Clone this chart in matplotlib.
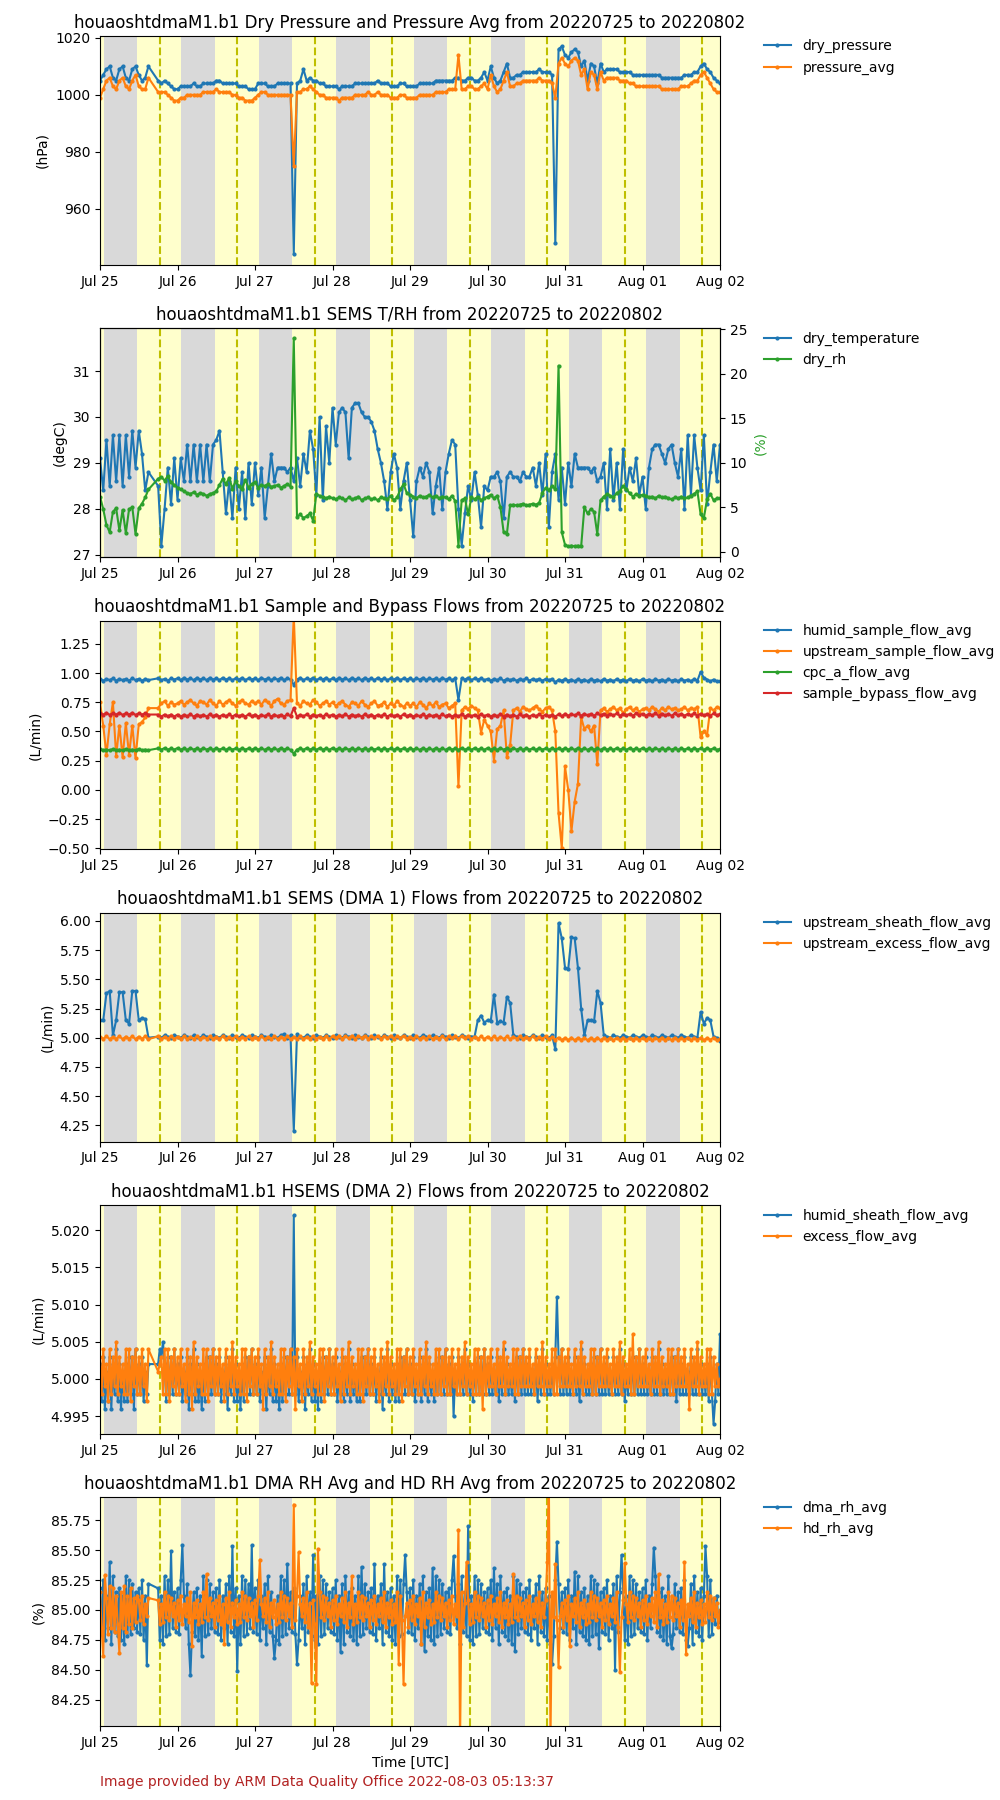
import numpy as np
import pandas as pd
import matplotlib
matplotlib.use('Agg')
import matplotlib.pyplot as plt
import matplotlib.dates as mdates

DATASTREAM = 'houaoshtdmaM1.b1'
START = pd.Timestamp('2022-07-25')
END = pd.Timestamp('2022-08-02')
# no samples between these times, the line just jumps across
GAP_FROM = START + pd.Timedelta(hours=15.25)
GAP_TO = START + pd.Timedelta(hours=17.75)

# sun at HOU (UTC hours)
SUNSET_H = 1.2
SUNRISE_H = 11.6
NOON_H = 18.45

# ---- panel 1, hourly (hPa)
dry_pressure = [
    1005, 1007, 1009, 1010, 1006, 1005, 1009, 1010, 1006, 1005, 1009, 1010, 1007, 1005, 1006, 1010, 1006, 1005, 1005, 1004, 1005, 1004, 1003, 1002,
    1002, 1003, 1003, 1003, 1003, 1004, 1003, 1003, 1004, 1004, 1004, 1004, 1005, 1005, 1004, 1004, 1004, 1004, 1004, 1003, 1003, 1003, 1002, 1002,
    1002, 1004, 1004, 1004, 1003, 1003, 1003, 1004, 1004, 1004, 1004, 1004, 944, 1004, 1005, 1009, 1005, 1006, 1005, 1005, 1004, 1004, 1003, 1003,
    1003, 1003, 1002, 1003, 1003, 1003, 1003, 1004, 1004, 1004, 1004, 1004, 1004, 1004, 1005, 1004, 1004, 1004, 1003, 1003, 1003, 1004, 1004, 1003,
    1003, 1003, 1003, 1004, 1004, 1004, 1004, 1004, 1005, 1005, 1005, 1005, 1005, 1005, 1006, 1006, 1005, 1005, 1006, 1006, 1005, 1005, 1006, 1008,
    1005, 1010, 1006, 1004, 1005, 1008, 1011, 1006, 1006, 1007, 1007, 1008, 1008, 1008, 1008, 1008, 1009, 1008, 1008, 1008, 1007, 948, 1016, 1017,
    1014, 1013, 1015, 1016, 1015, 1010, 1012, 1005, 1011, 1010, 1004, 1011, 1008, 1009, 1009, 1009, 1009, 1008, 1008, 1008, 1008, 1007, 1007, 1007,
    1007, 1007, 1007, 1007, 1007, 1007, 1006, 1006, 1006, 1006, 1006, 1006, 1006, 1007, 1007, 1007, 1008, 1008, 1010, 1011, 1009, 1008, 1006, 1005,
    1004]
pressure_avg = [
    999, 1002, 1005, 1006, 1003, 1002, 1005, 1006, 1003, 1002, 1005, 1007, 1003, 1002, 1002, 1006, 1002, 1002, 1001, 1001, 1001, 1000, 999, 998,
    998, 999, 999, 1000, 1000, 1000, 1000, 1000, 1001, 1001, 1001, 1001, 1002, 1001, 1001, 1001, 1001, 1000, 1000, 999, 999, 998, 998, 998,
    999, 1000, 1001, 1001, 1000, 1000, 1000, 1000, 1000, 1000, 1000, 1000, 975, 1001, 1001, 1002, 1002, 1003, 1002, 1001, 1000, 1000, 999, 999,
    999, 999, 998, 999, 999, 999, 999, 1000, 1000, 1000, 1000, 1001, 1000, 1000, 1001, 1000, 1000, 1000, 999, 999, 999, 1000, 1000, 999,
    999, 999, 999, 1000, 1000, 1000, 1000, 1000, 1001, 1001, 1001, 1001, 1002, 1002, 1002, 1014, 1002, 1002, 1003, 1003, 1002, 1002, 1003, 1004,
    1002, 1007, 1003, 1001, 1002, 1005, 1008, 1003, 1003, 1004, 1004, 1005, 1005, 1005, 1005, 1005, 1006, 1005, 1005, 1005, 1004, 999, 1011, 1013,
    1011, 1010, 1012, 1013, 1012, 1007, 1009, 1002, 1008, 1007, 1002, 1008, 1005, 1006, 1006, 1006, 1006, 1005, 1005, 1005, 1004, 1004, 1003, 1003,
    1003, 1003, 1003, 1003, 1003, 1003, 1002, 1002, 1002, 1002, 1002, 1002, 1003, 1003, 1003, 1004, 1005, 1005, 1007, 1008, 1006, 1004, 1002, 1001,
    1001]

# ---- panel 2, hourly (degC and %)
dry_temperature = [
    29.1, 28.4, 29.5, 28.5, 29.6, 28.6, 29.6, 28.5, 29.6, 28.7, 29.7, 28.9, 29.7, 29.2, 28.4, 28.8, 28.0, 27.8, 28.5, 27.2, 28.0, 28.9, 28.1, 29.1,
    28.2, 29.1, 28.6, 29.4, 28.6, 29.4, 28.6, 29.4, 28.6, 29.4, 28.6, 29.4, 29.5, 29.7, 28.8, 27.9, 28.6, 27.8, 28.9, 28.0, 28.8, 27.8, 29.0, 28.1,
    29.0, 28.3, 28.9, 27.8, 28.5, 29.2, 28.6, 28.9, 28.9, 28.9, 28.8, 28.9, 28.6, 29.1, 28.5, 29.2, 28.8, 29.7, 29.3, 28.3, 30.0, 28.2, 29.8, 29.0,
    30.2, 29.4, 30.1, 30.2, 30.1, 29.1, 30.2, 30.3, 30.3, 30.1, 30.0, 30.0, 29.9, 29.7, 29.3, 29.0, 28.6, 28.0, 28.8, 29.2, 28.9, 28.0, 28.6, 29.0,
    28.2, 27.4, 28.6, 28.9, 28.7, 29.0, 28.8, 27.9, 28.5, 28.9, 28.0, 28.8, 29.2, 29.5, 29.4, 28.0, 27.2, 27.9, 28.5, 28.2, 28.8, 28.3, 27.6, 28.5,
    28.4, 28.7, 28.7, 28.8, 28.6, 27.8, 28.7, 28.8, 28.7, 28.7, 28.6, 28.8, 28.7, 28.7, 28.9, 28.5, 29.0, 28.3, 29.2, 27.6, 28.8, 29.2, 28.2, 28.9,
    28.1, 29.0, 28.5, 29.2, 28.9, 28.9, 28.9, 28.9, 28.8, 28.9, 28.6, 28.7, 29.0, 28.0, 29.3, 28.2, 29.0, 28.0, 29.3, 28.4, 28.9, 28.6, 29.1, 28.3,
    28.7, 28.0, 28.9, 29.3, 29.4, 29.4, 29.2, 29.0, 29.3, 29.4, 29.0, 28.7, 29.3, 28.0, 29.6, 28.3, 29.6, 28.9, 28.4, 29.6, 28.1, 28.8, 29.4, 28.6,
    29.4]
dry_rh = [
    6.2, 4.8, 3.0, 2.2, 4.5, 4.9, 2.4, 4.7, 2.1, 4.8, 5.0, 2.0, 4.9, 5.4, 6.1, 7.0, 7.3, 7.8, 8.2, 8.4, 8.0, 8.5, 7.8, 7.5,
    7.2, 7.0, 6.8, 6.6, 6.5, 6.7, 6.4, 6.6, 6.5, 6.3, 6.5, 6.6, 6.8, 7.5, 8.2, 7.6, 8.3, 7.1, 7.9, 7.4, 7.0, 8.1, 7.2, 7.6,
    7.8, 7.2, 7.5, 7.4, 7.6, 7.3, 7.4, 7.5, 7.2, 7.4, 7.6, 7.3, 24.0, 3.9, 4.2, 3.8, 4.0, 4.3, 3.5, 6.5, 6.3, 6.1, 6.0, 6.2,
    6.0, 5.9, 6.1, 6.0, 5.8, 6.1, 5.9, 6.0, 6.2, 5.8, 6.0, 6.1, 5.9, 6.0, 5.8, 6.1, 6.0, 5.9, 6.3, 5.8, 6.1, 7.0, 7.6, 6.6,
    6.4, 6.2, 6.0, 6.3, 6.1, 6.2, 6.4, 6.1, 6.3, 6.0, 6.2, 6.1, 5.9, 6.3, 5.7, 0.7, 5.8, 6.0, 4.2, 6.1, 5.9, 6.2, 5.8, 6.0,
    6.2, 6.4, 6.0, 6.3, 5.0, 2.2, 2.0, 5.2, 5.3, 5.2, 5.3, 5.4, 5.2, 5.3, 5.4, 5.3, 5.5, 6.6, 7.2, 6.9, 7.4, 7.0, 20.9, 2.2,
    0.8, 0.6, 0.7, 0.6, 0.7, 0.6, 5.0, 4.3, 4.8, 4.5, 2.0, 5.8, 6.2, 6.5, 6.3, 6.1, 6.6, 6.8, 7.4, 7.0, 6.6, 6.2, 6.5, 6.3,
    6.4, 6.3, 6.1, 6.2, 6.0, 6.3, 6.1, 6.2, 6.0, 5.9, 6.1, 6.0, 6.2, 6.0, 6.1, 6.3, 6.5, 6.8, 4.2, 3.8, 5.9, 6.5, 5.8, 6.0,
    6.0]

# ---- panel 3, hourly (L/min)
humid_sample_flow_avg = [
    0.95, 0.935, 0.95, 0.94, 0.955, 0.935, 0.95, 0.94, 0.95, 0.935, 0.955, 0.94, 0.95, 0.935, 0.95, 0.94, 0.95, 0.94, 0.955, 0.94, 0.95, 0.935, 0.955, 0.945,
    0.955, 0.94, 0.96, 0.945, 0.955, 0.94, 0.96, 0.945, 0.955, 0.94, 0.96, 0.945, 0.955, 0.94, 0.96, 0.945, 0.955, 0.94, 0.955, 0.945, 0.96, 0.94, 0.955, 0.945,
    0.955, 0.94, 0.96, 0.945, 0.955, 0.94, 0.955, 0.945, 0.96, 0.94, 0.955, 0.945, 0.90, 0.945, 0.96, 0.94, 0.955, 0.945, 0.96, 0.94, 0.955, 0.945, 0.96, 0.94,
    0.955, 0.94, 0.96, 0.945, 0.955, 0.94, 0.96, 0.945, 0.955, 0.94, 0.96, 0.945, 0.955, 0.94, 0.96, 0.945, 0.955, 0.94, 0.955, 0.945, 0.96, 0.94, 0.955, 0.945,
    0.955, 0.94, 0.955, 0.945, 0.96, 0.94, 0.955, 0.945, 0.955, 0.94, 0.96, 0.945, 0.955, 0.94, 0.955, 0.77, 0.955, 0.945, 0.96, 0.94, 0.955, 0.945, 0.955, 0.94,
    0.95, 0.935, 0.95, 0.94, 0.955, 0.935, 0.95, 0.94, 0.95, 0.935, 0.95, 0.94, 0.955, 0.935, 0.95, 0.94, 0.95, 0.935, 0.95, 0.94, 0.95, 0.92, 0.945, 0.935,
    0.95, 0.935, 0.945, 0.93, 0.95, 0.935, 0.945, 0.93, 0.95, 0.935, 0.945, 0.93, 0.95, 0.935, 0.945, 0.93, 0.95, 0.935, 0.945, 0.93, 0.95, 0.935, 0.945, 0.93,
    0.95, 0.935, 0.945, 0.93, 0.95, 0.935, 0.945, 0.93, 0.95, 0.935, 0.945, 0.93, 0.95, 0.935, 0.945, 0.93, 0.95, 0.935, 1.01, 0.96, 0.945, 0.93, 0.945, 0.93,
    0.93]
upstream_sample_flow_avg = [
    0.75, 0.55, 0.30, 0.56, 0.75, 0.29, 0.55, 0.28, 0.57, 0.30, 0.55, 0.27, 0.56, 0.58, 0.62, 0.70, 0.72, 0.73, 0.70, 0.74, 0.76, 0.72, 0.75, 0.73,
    0.74, 0.76, 0.73, 0.75, 0.77, 0.74, 0.72, 0.76, 0.75, 0.73, 0.77, 0.74, 0.72, 0.76, 0.73, 0.75, 0.77, 0.74, 0.72, 0.75, 0.77, 0.74, 0.73, 0.76,
    0.74, 0.76, 0.73, 0.77, 0.75, 0.72, 0.76, 0.78, 0.74, 0.73, 0.76, 0.77, 1.50, 0.74, 0.72, 0.76, 0.74, 0.73, 0.77, 0.75, 0.72, 0.74, 0.76, 0.73,
    0.75, 0.72, 0.74, 0.76, 0.73, 0.71, 0.75, 0.74, 0.72, 0.76, 0.73, 0.71, 0.74, 0.76, 0.72, 0.73, 0.75, 0.71, 0.74, 0.72, 0.76, 0.73, 0.71, 0.74,
    0.72, 0.74, 0.71, 0.75, 0.73, 0.70, 0.74, 0.72, 0.75, 0.71, 0.73, 0.74, 0.70, 0.72, 0.74, 0.03, 0.68, 0.71, 0.69, 0.72, 0.70, 0.68, 0.49, 0.60,
    0.55, 0.50, 0.25, 0.52, 0.55, 0.68, 0.28, 0.38, 0.68, 0.70, 0.67, 0.71, 0.69, 0.68, 0.70, 0.72, 0.69, 0.67, 0.70, 0.71, 0.68, 0.50, -0.20, -0.50,
    0.20, 0.00, -0.35, -0.10, 0.05, 0.62, 0.52, 0.55, 0.50, 0.55, 0.22, 0.68, 0.70, 0.67, 0.69, 0.71, 0.68, 0.70, 0.66, 0.69, 0.71, 0.68, 0.70, 0.67,
    0.69, 0.70, 0.68, 0.71, 0.69, 0.67, 0.70, 0.68, 0.71, 0.69, 0.70, 0.68, 0.69, 0.71, 0.68, 0.70, 0.69, 0.71, 0.45, 0.50, 0.47, 0.70, 0.68, 0.71,
    0.70]
cpc_a_flow_avg = [
    0.35, 0.34, 0.345, 0.338, 0.35, 0.34, 0.345, 0.338, 0.35, 0.34, 0.345, 0.338, 0.35, 0.34, 0.345, 0.34, 0.35, 0.345, 0.355, 0.345, 0.358, 0.345, 0.355, 0.345,
    0.358, 0.345, 0.355, 0.343, 0.358, 0.345, 0.355, 0.343, 0.358, 0.345, 0.355, 0.343, 0.358, 0.345, 0.355, 0.343, 0.358, 0.345, 0.355, 0.343, 0.358, 0.345, 0.355, 0.343,
    0.358, 0.345, 0.355, 0.343, 0.358, 0.345, 0.355, 0.343, 0.358, 0.345, 0.355, 0.343, 0.31, 0.345, 0.355, 0.343, 0.358, 0.345, 0.355, 0.343, 0.358, 0.345, 0.355, 0.343,
    0.358, 0.345, 0.355, 0.343, 0.358, 0.345, 0.355, 0.343, 0.358, 0.345, 0.355, 0.343, 0.358, 0.345, 0.355, 0.343, 0.358, 0.345, 0.355, 0.343, 0.358, 0.345, 0.355, 0.343,
    0.358, 0.345, 0.355, 0.343, 0.358, 0.345, 0.355, 0.343, 0.358, 0.345, 0.355, 0.343, 0.358, 0.345, 0.355, 0.343, 0.358, 0.345, 0.355, 0.343, 0.358, 0.345, 0.355, 0.343,
    0.358, 0.345, 0.355, 0.343, 0.358, 0.345, 0.355, 0.343, 0.358, 0.345, 0.355, 0.343, 0.358, 0.345, 0.355, 0.343, 0.358, 0.345, 0.355, 0.343, 0.358, 0.345, 0.355, 0.343,
    0.358, 0.345, 0.355, 0.343, 0.358, 0.345, 0.355, 0.343, 0.358, 0.345, 0.355, 0.343, 0.358, 0.345, 0.355, 0.343, 0.358, 0.345, 0.355, 0.343, 0.358, 0.345, 0.355, 0.343,
    0.358, 0.345, 0.355, 0.343, 0.358, 0.345, 0.355, 0.343, 0.358, 0.345, 0.355, 0.343, 0.358, 0.345, 0.355, 0.343, 0.358, 0.345, 0.355, 0.343, 0.358, 0.345, 0.355, 0.343,
    0.35]
sample_bypass_flow_avg = [
    0.655, 0.645, 0.66, 0.642, 0.655, 0.645, 0.66, 0.642, 0.655, 0.645, 0.66, 0.642, 0.655, 0.645, 0.655, 0.645, 0.64, 0.63, 0.645, 0.628, 0.645, 0.63, 0.645, 0.628,
    0.645, 0.628, 0.643, 0.63, 0.647, 0.628, 0.645, 0.63, 0.643, 0.628, 0.647, 0.63, 0.645, 0.628, 0.643, 0.63, 0.647, 0.628, 0.645, 0.63, 0.643, 0.628, 0.647, 0.63,
    0.645, 0.628, 0.643, 0.63, 0.647, 0.628, 0.645, 0.63, 0.643, 0.628, 0.647, 0.63, 0.70, 0.628, 0.643, 0.63, 0.647, 0.628, 0.645, 0.63, 0.643, 0.628, 0.647, 0.63,
    0.645, 0.628, 0.643, 0.63, 0.647, 0.628, 0.645, 0.63, 0.643, 0.628, 0.647, 0.63, 0.645, 0.628, 0.643, 0.63, 0.647, 0.628, 0.645, 0.63, 0.643, 0.628, 0.647, 0.63,
    0.645, 0.628, 0.643, 0.63, 0.647, 0.628, 0.645, 0.63, 0.643, 0.628, 0.647, 0.63, 0.645, 0.628, 0.643, 0.63, 0.647, 0.628, 0.645, 0.63, 0.643, 0.628, 0.647, 0.63,
    0.645, 0.628, 0.643, 0.63, 0.647, 0.628, 0.645, 0.63, 0.643, 0.628, 0.647, 0.63, 0.645, 0.628, 0.643, 0.63, 0.647, 0.628, 0.645, 0.63, 0.643, 0.628, 0.647, 0.63,
    0.652, 0.635, 0.65, 0.637, 0.654, 0.635, 0.652, 0.637, 0.65, 0.635, 0.654, 0.637, 0.652, 0.635, 0.65, 0.637, 0.654, 0.635, 0.652, 0.637, 0.65, 0.635, 0.654, 0.637,
    0.652, 0.635, 0.65, 0.637, 0.654, 0.635, 0.652, 0.637, 0.65, 0.635, 0.654, 0.637, 0.652, 0.635, 0.65, 0.637, 0.654, 0.635, 0.652, 0.637, 0.65, 0.635, 0.654, 0.637,
    0.65]

# ---- panel 4, hourly (L/min)
upstream_sheath_flow_avg = [
    5.15, 5.15, 5.38, 5.40, 5.02, 5.15, 5.39, 5.39, 5.15, 5.12, 5.40, 5.40, 5.15, 5.17, 5.16, 5.00, 5.01, 5.01, 5.01, 5.00, 5.02, 5.01, 5.00, 5.02,
    5.01, 5.00, 5.02, 5.01, 5.00, 5.02, 5.01, 5.00, 5.02, 5.01, 5.00, 5.02, 5.01, 5.00, 5.02, 5.01, 5.00, 5.02, 5.01, 5.00, 5.02, 5.01, 5.00, 5.02,
    5.01, 5.00, 5.02, 5.01, 5.00, 5.02, 5.01, 5.00, 5.02, 5.03, 5.00, 5.02, 4.20, 5.03, 5.01, 5.00, 5.02, 5.01, 5.00, 5.02, 5.01, 5.00, 5.02, 5.01,
    5.00, 5.02, 5.01, 5.00, 5.02, 5.01, 5.00, 5.02, 5.01, 5.00, 5.02, 5.01, 5.00, 5.02, 5.01, 5.00, 5.02, 5.01, 5.00, 5.02, 5.01, 5.00, 5.02, 5.01,
    5.00, 5.02, 5.01, 5.00, 5.02, 5.01, 5.00, 5.02, 5.01, 5.00, 5.02, 5.01, 5.00, 5.02, 5.01, 5.00, 5.02, 5.01, 5.00, 5.01, 5.01, 5.15, 5.19, 5.13,
    5.15, 5.14, 5.37, 5.13, 5.14, 5.13, 5.35, 5.30, 5.02, 5.01, 5.00, 5.02, 5.01, 5.00, 5.02, 5.01, 5.00, 5.02, 5.01, 5.00, 5.02, 4.90, 5.98, 5.85,
    5.60, 5.59, 5.86, 5.85, 5.60, 5.25, 5.02, 5.15, 5.15, 5.14, 5.40, 5.30, 5.02, 5.01, 5.00, 5.02, 5.01, 5.00, 5.02, 5.01, 5.00, 5.02, 5.01, 5.00,
    5.02, 5.01, 5.00, 5.02, 5.01, 5.00, 5.02, 5.01, 5.00, 5.02, 5.01, 5.00, 5.02, 5.01, 5.00, 5.02, 5.01, 5.00, 5.22, 5.12, 5.17, 5.15, 5.01, 5.00,
    4.97]
upstream_excess_flow_avg = [
    5.01, 4.99, 5.012, 4.988, 5.008, 4.99, 5.012, 4.988, 5.01, 4.992, 5.012, 4.988, 5.01, 4.99, 5.012, 4.988, 5.008, 4.99, 5.012, 4.988, 5.01, 4.992, 5.012, 4.988,
    5.01, 4.99, 5.012, 4.988, 5.008, 4.99, 5.012, 4.988, 5.01, 4.992, 5.012, 4.988, 5.01, 4.99, 5.012, 4.988, 5.008, 4.99, 5.012, 4.988, 5.01, 4.992, 5.012, 4.988,
    5.01, 4.99, 5.012, 4.988, 5.008, 4.99, 5.012, 4.988, 5.01, 4.992, 5.012, 4.988, 5.01, 4.99, 5.012, 4.988, 5.008, 4.99, 5.012, 4.988, 5.01, 4.992, 5.012, 4.988,
    5.015, 4.995, 5.018, 4.993, 5.015, 4.995, 5.018, 4.993, 5.015, 4.997, 5.018, 4.993, 5.015, 4.995, 5.018, 4.993, 5.015, 4.995, 5.018, 4.993, 5.015, 4.997, 5.018, 4.993,
    5.01, 4.99, 5.012, 4.988, 5.008, 4.99, 5.012, 4.988, 5.01, 4.992, 5.012, 4.988, 5.015, 4.995, 5.018, 4.993, 5.015, 4.995, 5.012, 4.988, 5.01, 4.992, 5.012, 4.988,
    5.01, 4.99, 5.012, 4.988, 5.008, 4.99, 5.012, 4.988, 5.01, 4.992, 5.012, 4.988, 5.01, 4.99, 5.012, 4.988, 5.008, 4.99, 5.012, 4.988, 5.005, 4.985, 5.002, 4.98,
    5.0, 4.98, 5.002, 4.978, 5.0, 4.982, 5.002, 4.978, 5.0, 4.98, 5.002, 4.978, 5.0, 4.982, 5.002, 4.978, 5.0, 4.98, 5.002, 4.978, 5.0, 4.982, 5.002, 4.978,
    5.0, 4.98, 5.002, 4.978, 5.0, 4.982, 5.002, 4.978, 5.0, 4.98, 5.002, 4.978, 5.0, 4.982, 5.002, 4.978, 5.0, 4.98, 5.002, 4.978, 5.0, 4.982, 5.002, 4.978,
    4.99]

# ---- panel 5, every 30 min (L/min)
humid_sheath_flow_avg = [
    5.002, 4.997, 5.003, 4.996, 5.001, 4.997, 5.003, 4.996, 5.002, 4.998, 5.004, 4.997, 5.002, 4.996, 5.001, 4.997, 5.002, 4.997, 5.003, 4.998, 5.003, 4.996, 5.004, 4.998,
    5.002, 4.998, 5.003, 4.997, 5.001, 4.998, 5.002, 4.999, 5.001, 5.002, 5.002, 5.003, 5.002, 5.004, 5.003, 5.005, 5.002, 4.997, 5.003, 4.998, 5.003, 4.998, 5.004, 4.998,
    5.002, 4.998, 5.003, 4.997, 5.001, 4.998, 5.003, 4.996, 5.002, 4.998, 5.004, 4.997, 5.002, 4.997, 5.001, 4.996, 5.002, 4.997, 5.003, 4.998, 5.003, 4.998, 5.004, 4.998,
    5.002, 4.998, 5.003, 4.997, 5.001, 4.998, 5.003, 4.996, 5.002, 4.998, 5.004, 4.997, 5.002, 4.997, 5.001, 4.996, 5.002, 4.997, 5.003, 4.998, 5.003, 4.998, 5.004, 4.998,
    5.002, 4.998, 5.003, 4.997, 5.001, 4.998, 5.003, 4.996, 5.002, 4.998, 5.004, 4.997, 5.002, 4.997, 5.001, 4.996, 5.002, 4.997, 5.003, 4.998, 5.003, 4.998, 5.004, 4.998,
    5.022, 4.998, 5.003, 4.997, 5.001, 4.998, 5.003, 4.996, 5.002, 4.998, 5.004, 4.997, 5.002, 4.997, 5.001, 4.996, 5.002, 4.997, 5.003, 4.998, 5.003, 4.998, 5.004, 4.998,
    5.002, 4.998, 5.003, 4.997, 5.001, 4.998, 5.003, 4.997, 5.002, 4.998, 5.004, 4.997, 5.002, 4.998, 5.001, 4.997, 5.002, 4.997, 5.003, 4.998, 5.003, 4.998, 5.004, 4.998,
    5.002, 4.998, 5.003, 4.997, 5.001, 4.998, 5.003, 4.996, 5.002, 4.998, 5.004, 4.997, 5.002, 4.998, 5.001, 4.997, 5.002, 4.997, 5.003, 4.998, 5.003, 4.998, 5.004, 4.998,
    5.002, 4.998, 5.003, 4.997, 5.001, 4.998, 5.003, 4.997, 5.002, 4.998, 5.004, 4.997, 5.002, 4.998, 5.001, 4.997, 5.002, 4.998, 5.003, 4.998, 5.003, 4.998, 5.004, 4.998,
    5.002, 4.998, 5.003, 4.995, 5.001, 4.998, 5.003, 4.998, 5.002, 4.998, 5.004, 4.998, 5.002, 4.998, 5.001, 4.997, 5.002, 4.998, 5.003, 4.998, 5.003, 4.998, 5.004, 4.998,
    5.002, 4.998, 5.003, 4.998, 5.001, 4.998, 5.003, 4.997, 5.002, 4.998, 5.004, 4.998, 5.002, 4.998, 5.001, 4.998, 5.002, 4.997, 5.003, 4.998, 5.003, 4.998, 5.004, 4.998,
    5.002, 4.998, 5.003, 4.998, 5.001, 4.998, 5.003, 4.997, 5.002, 4.998, 5.004, 4.998, 5.002, 4.998, 5.001, 4.998, 5.002, 4.998, 5.003, 5.011, 5.003, 4.998, 5.004, 4.998,
    5.002, 4.998, 5.003, 4.998, 5.001, 4.998, 5.003, 4.998, 5.002, 4.997, 5.004, 4.998, 5.002, 4.998, 5.001, 4.998, 5.002, 4.998, 5.003, 4.998, 5.003, 4.998, 5.004, 4.998,
    5.002, 4.998, 5.003, 4.998, 5.001, 4.998, 5.003, 4.998, 5.002, 4.998, 5.004, 4.998, 5.002, 4.997, 5.001, 4.998, 5.002, 4.998, 5.003, 4.998, 5.003, 4.998, 5.004, 4.998,
    5.002, 4.998, 5.003, 4.998, 5.001, 4.998, 5.003, 4.998, 5.002, 4.998, 5.004, 4.998, 5.002, 4.998, 5.001, 4.998, 5.002, 4.998, 5.003, 4.998, 5.003, 4.997, 5.004, 4.998,
    5.002, 4.998, 5.003, 4.998, 5.001, 4.998, 5.003, 4.998, 5.002, 4.998, 5.004, 4.998, 5.002, 4.998, 5.001, 4.998, 5.002, 4.997, 5.003, 4.998, 4.994, 4.997, 5.002, 4.998,
    5.006]
excess_flow_avg = [
    5.003, 4.998, 5.004, 4.999, 5.002, 4.997, 5.004, 4.998, 5.003, 4.999, 5.005, 4.998, 5.003, 4.999, 5.002, 4.998, 5.004, 4.998, 5.004, 4.997, 5.003, 4.999, 5.004, 4.998,
    5.003, 4.998, 5.004, 4.999, 5.002, 4.997, 5.004, 4.998, 5.001, 5.002, 5.001, 5.002, 5.001, 5.002, 5.003, 4.998, 5.004, 4.998, 5.004, 4.997, 5.003, 4.999, 5.004, 4.998,
    5.003, 4.998, 5.004, 4.999, 5.002, 4.997, 5.004, 4.998, 5.003, 4.996, 5.005, 4.998, 5.003, 4.999, 5.002, 4.998, 5.004, 4.998, 5.004, 4.997, 5.003, 4.999, 5.004, 4.998,
    5.003, 4.998, 5.004, 4.999, 5.002, 4.997, 5.004, 4.998, 5.003, 4.999, 5.005, 4.998, 5.003, 4.999, 5.002, 4.998, 5.004, 4.998, 5.004, 4.997, 5.003, 4.999, 5.004, 4.998,
    5.003, 4.998, 5.004, 4.999, 5.002, 4.996, 5.004, 4.998, 5.003, 4.999, 5.005, 4.998, 5.003, 4.999, 5.002, 4.998, 5.004, 4.998, 5.004, 4.997, 5.003, 4.999, 5.004, 4.998,
    5.003, 4.996, 5.004, 4.999, 5.002, 4.997, 5.004, 4.998, 5.003, 4.999, 5.005, 4.998, 5.003, 4.999, 5.002, 4.998, 5.004, 4.998, 5.004, 4.997, 5.003, 4.999, 5.004, 4.998,
    5.003, 4.998, 5.004, 4.999, 5.002, 4.997, 5.004, 4.998, 5.003, 4.999, 5.005, 4.998, 5.003, 4.999, 5.002, 4.998, 5.004, 4.998, 5.004, 4.997, 5.003, 4.999, 5.004, 4.998,
    5.003, 4.998, 5.004, 4.999, 5.002, 4.997, 5.004, 4.998, 5.003, 4.999, 5.005, 4.998, 5.003, 4.999, 5.002, 4.998, 5.004, 4.998, 5.004, 4.997, 5.003, 4.999, 5.004, 4.998,
    5.003, 4.998, 5.004, 4.999, 5.002, 4.998, 5.004, 4.998, 5.003, 4.999, 5.005, 4.998, 5.003, 4.999, 5.002, 4.998, 5.004, 4.998, 5.004, 4.998, 5.003, 4.999, 5.004, 4.998,
    5.003, 4.998, 5.004, 4.999, 5.002, 4.998, 5.004, 4.998, 5.003, 4.999, 5.005, 4.998, 5.003, 4.999, 5.002, 4.998, 5.004, 4.998, 5.004, 4.998, 5.003, 4.996, 5.004, 4.998,
    5.003, 4.999, 5.004, 4.999, 5.002, 4.998, 5.004, 4.999, 5.003, 4.999, 5.005, 4.998, 5.003, 4.999, 5.002, 4.999, 5.004, 4.998, 5.004, 4.998, 5.003, 4.999, 5.004, 4.999,
    5.003, 4.999, 5.004, 4.999, 5.002, 4.998, 5.004, 4.999, 5.003, 4.999, 5.005, 4.998, 5.003, 4.999, 5.002, 4.999, 5.004, 4.998, 5.004, 4.998, 5.003, 4.999, 5.004, 4.999,
    5.003, 4.999, 5.004, 4.999, 5.002, 4.998, 5.004, 4.999, 5.003, 4.999, 5.005, 4.998, 5.003, 4.999, 5.002, 4.999, 5.004, 4.998, 5.004, 4.998, 5.003, 4.999, 5.004, 4.999,
    5.003, 4.999, 5.004, 4.999, 5.002, 4.998, 5.004, 4.999, 5.003, 4.999, 5.005, 4.998, 5.003, 4.999, 5.002, 4.999, 5.004, 4.998, 5.006, 4.998, 5.003, 4.999, 5.004, 4.999,
    5.003, 4.999, 5.004, 4.999, 5.002, 4.998, 5.004, 4.999, 5.003, 4.999, 5.005, 4.998, 5.003, 4.999, 5.002, 4.999, 5.004, 4.998, 5.004, 4.998, 5.003, 4.999, 5.004, 4.999,
    5.003, 4.999, 5.004, 4.999, 5.002, 4.996, 5.004, 4.999, 5.003, 4.999, 5.005, 4.998, 5.003, 4.999, 5.002, 4.999, 5.004, 4.998, 5.004, 4.998, 5.003, 4.999, 5.002, 4.999,
    5.000]

# ---- panel 6, every 30 min (%)
dma_rh_avg = [
    85.18, 84.80, 85.25, 84.75, 85.12, 84.85, 85.40, 84.72, 85.28, 84.82, 85.15, 84.78, 85.18, 84.75, 85.12, 84.72, 85.28, 84.78, 85.25, 84.80, 85.22, 84.85, 85.15, 84.82,
    85.18, 84.80, 85.25, 84.75, 85.12, 84.54, 85.22, 84.72, 85.28, 84.82, 85.15, 84.78, 85.18, 84.75, 85.12, 84.72, 85.28, 84.78, 85.25, 84.80, 85.49, 84.85, 85.15, 84.82,
    85.18, 84.80, 85.25, 85.54, 85.12, 84.85, 85.22, 84.72, 84.46, 84.82, 85.15, 84.78, 85.18, 84.75, 85.12, 84.62, 85.28, 84.78, 85.25, 84.80, 85.22, 84.85, 85.15, 84.82,
    85.18, 84.80, 85.25, 84.75, 85.12, 84.85, 85.22, 84.72, 85.28, 84.82, 85.53, 84.78, 85.18, 84.49, 85.12, 84.72, 85.28, 84.78, 85.25, 84.80, 85.22, 84.85, 85.54, 84.82,
    85.18, 84.80, 85.25, 84.75, 85.12, 84.85, 85.22, 84.72, 85.28, 84.82, 85.15, 84.78, 84.60, 84.75, 85.12, 84.72, 85.28, 84.78, 85.25, 84.80, 85.38, 84.85, 85.15, 84.82,
    85.18, 84.80, 84.55, 84.75, 85.12, 84.85, 85.22, 84.72, 85.28, 84.82, 85.15, 84.78, 85.46, 84.75, 85.12, 84.72, 85.28, 84.78, 85.25, 84.80, 85.22, 84.85, 85.15, 84.82,
    85.18, 84.80, 85.25, 84.75, 85.12, 84.65, 85.22, 84.72, 85.28, 84.82, 85.15, 84.78, 85.18, 84.75, 85.12, 84.72, 85.28, 84.78, 85.36, 84.80, 85.22, 84.85, 85.15, 84.82,
    85.18, 84.80, 85.38, 84.75, 85.12, 84.85, 85.22, 84.72, 85.38, 84.82, 85.15, 84.78, 85.18, 84.75, 85.12, 84.72, 85.28, 84.78, 85.25, 84.80, 85.22, 85.46, 85.15, 84.82,
    85.18, 84.80, 85.25, 84.75, 85.12, 84.85, 85.22, 84.72, 85.28, 84.66, 85.15, 84.78, 85.18, 84.75, 85.35, 84.72, 85.28, 84.78, 85.25, 84.80, 85.22, 84.85, 85.15, 84.82,
    85.18, 84.80, 85.25, 85.45, 85.12, 84.85, 85.22, 84.72, 85.28, 84.82, 85.15, 84.78, 85.70, 84.75, 85.12, 84.72, 85.28, 84.78, 85.25, 84.80, 85.22, 84.85, 85.15, 84.82,
    85.18, 84.80, 85.25, 84.75, 85.35, 84.85, 85.22, 84.72, 85.28, 84.82, 85.15, 84.78, 85.18, 84.75, 85.12, 84.72, 85.28, 84.66, 85.25, 84.80, 85.22, 84.85, 85.15, 84.82,
    85.18, 84.80, 85.25, 84.75, 85.12, 84.85, 85.22, 84.72, 85.28, 84.82, 85.15, 84.78, 85.18, 84.75, 85.12, 84.72, 84.55, 84.78, 85.25, 85.57, 85.22, 84.85, 85.15, 84.82,
    85.18, 84.80, 85.25, 84.75, 85.12, 84.85, 85.32, 84.72, 85.28, 84.82, 85.15, 84.78, 85.18, 84.75, 85.12, 84.72, 85.28, 84.78, 85.25, 84.80, 85.22, 84.68, 85.15, 84.82,
    85.18, 84.80, 85.25, 84.75, 85.12, 84.85, 85.22, 84.50, 85.28, 84.82, 85.15, 85.46, 85.18, 84.75, 85.12, 84.72, 85.28, 84.78, 85.25, 84.80, 85.22, 84.85, 85.15, 84.82,
    85.18, 84.80, 85.25, 84.75, 85.12, 84.85, 85.22, 85.52, 85.28, 84.82, 85.15, 84.78, 85.18, 84.75, 85.12, 84.72, 85.28, 84.78, 84.68, 84.80, 85.22, 84.85, 85.15, 84.82,
    85.18, 84.80, 85.25, 84.75, 84.70, 84.85, 85.22, 84.72, 85.28, 84.82, 85.15, 84.78, 85.18, 84.75, 85.12, 85.53, 85.28, 84.78, 85.25, 84.80, 85.10, 84.88, 85.12, 84.90,
    84.95]
hd_rh_avg = [
    85.15, 84.85, 84.62, 85.29, 85.10, 84.80, 85.20, 84.85, 85.18, 84.82, 85.12, 84.88, 84.64, 85.15, 84.85, 85.20, 84.82, 85.12, 84.88, 85.18, 84.85, 85.10, 84.90, 85.12,
    85.08, 84.92, 85.12, 84.88, 85.05, 84.95, 85.10, 84.90, 85.15, 84.86, 85.06, 84.94, 85.08, 84.88, 85.05, 84.90, 85.15, 84.94, 85.12, 84.92, 85.10, 84.95, 85.06, 84.86,
    85.08, 84.92, 85.12, 84.88, 85.05, 84.95, 85.10, 84.90, 85.15, 84.70, 85.06, 84.94, 85.08, 84.88, 85.05, 84.90, 85.15, 84.94, 85.30, 84.92, 85.10, 84.95, 85.06, 84.86,
    85.08, 84.92, 85.12, 84.88, 85.05, 84.72, 85.10, 84.90, 85.15, 84.86, 85.06, 84.94, 85.08, 84.88, 85.05, 84.90, 85.15, 84.94, 85.12, 84.92, 85.10, 84.95, 85.06, 84.86,
    85.08, 84.92, 85.12, 85.42, 85.05, 84.95, 85.10, 84.90, 85.15, 84.86, 85.06, 84.94, 85.08, 84.88, 85.05, 84.90, 85.15, 84.94, 85.12, 84.92, 85.10, 84.95, 85.06, 84.86,
    85.88, 84.92, 85.12, 85.48, 85.05, 84.95, 85.10, 84.90, 85.15, 84.86, 85.06, 84.39, 85.08, 84.88, 84.38, 85.51, 85.15, 84.94, 85.12, 84.92, 85.10, 84.95, 85.06, 84.86,
    85.08, 84.92, 85.12, 84.88, 85.05, 84.95, 85.10, 84.90, 85.15, 84.86, 85.06, 84.94, 85.28, 84.88, 85.05, 84.90, 85.15, 84.94, 85.12, 84.92, 85.10, 84.95, 85.06, 84.86,
    85.08, 84.92, 85.12, 84.88, 85.05, 84.95, 85.10, 84.90, 85.15, 84.86, 85.06, 84.94, 85.08, 84.88, 85.05, 84.90, 85.15, 84.55, 85.12, 84.92, 84.38, 84.95, 85.06, 84.86,
    85.08, 84.92, 85.12, 84.88, 85.05, 84.95, 85.10, 84.72, 85.15, 84.86, 85.06, 84.94, 85.08, 84.88, 85.05, 84.90, 85.15, 84.94, 85.12, 84.92, 85.10, 84.95, 85.06, 84.86,
    85.08, 84.92, 85.12, 84.88, 85.05, 84.95, 85.67, 83.90, 85.15, 84.86, 85.06, 85.40, 85.08, 84.88, 85.05, 84.90, 85.15, 84.94, 85.12, 84.92, 85.10, 84.95, 85.06, 84.86,
    85.08, 84.92, 85.12, 84.88, 85.05, 84.95, 85.10, 84.90, 85.15, 84.86, 85.06, 84.94, 85.08, 84.88, 85.05, 84.90, 85.30, 84.94, 85.12, 84.92, 85.10, 84.95, 85.06, 84.86,
    85.08, 84.92, 85.12, 84.88, 85.05, 84.95, 85.10, 84.90, 85.15, 84.86, 85.06, 84.94, 85.08, 85.40, 86.10, 83.90, 85.15, 84.94, 85.38, 84.92, 84.52, 84.95, 85.06, 84.86,
    85.08, 84.92, 85.12, 84.70, 85.05, 84.95, 85.10, 84.90, 85.15, 84.86, 85.06, 84.94, 85.08, 84.88, 85.05, 84.90, 85.15, 84.94, 85.12, 84.92, 85.10, 84.95, 85.06, 84.86,
    85.08, 84.92, 85.12, 84.88, 85.05, 84.95, 85.10, 84.90, 85.15, 84.86, 84.48, 84.94, 85.08, 85.39, 85.05, 84.90, 85.15, 84.94, 85.12, 84.92, 85.10, 84.95, 85.06, 84.86,
    85.08, 84.92, 85.12, 84.88, 85.05, 84.95, 85.10, 84.90, 85.15, 84.86, 85.30, 84.94, 85.08, 84.88, 85.05, 84.90, 85.15, 84.94, 85.12, 84.92, 85.10, 84.95, 85.06, 84.86,
    85.08, 84.92, 85.40, 84.63, 85.05, 84.95, 85.10, 84.90, 85.15, 84.86, 85.06, 84.94, 85.08, 84.88, 85.05, 84.90, 85.15, 84.94, 85.12, 84.92, 85.10, 84.95, 85.06, 84.86,
    85.00]


def to_series(values, step_h=1.0):
    idx = START + pd.to_timedelta(np.arange(len(values)) * step_h, unit='h')
    s = pd.Series(values, index=idx)
    return s[~((s.index > GAP_FROM) & (s.index < GAP_TO))]


def day_night(ax):
    ax.set_facecolor('#ffffcc')
    for d in range(-1, 9):
        day = START + pd.Timedelta(days=d)
        ax.axvspan(day + pd.Timedelta(hours=SUNSET_H), day + pd.Timedelta(hours=SUNRISE_H),
                   color='#d9d9d9', lw=0, zorder=0)
        ax.axvline(day + pd.Timedelta(hours=NOON_H), color='y', ls='--', lw=1.5, zorder=1)
    ax.set_xlim(START, END)
    ax.xaxis.set_major_locator(mdates.DayLocator())
    ax.xaxis.set_major_formatter(mdates.DateFormatter('%b %d'))


def draw(ax, values, label, color, step_h=1.0):
    s = to_series(values, step_h)
    return ax.plot(s.index, s.values, '.-', color=color, lw=1.5, ms=4, label=label)[0]


def title(what):
    return f'{DATASTREAM} {what} from 20220725 to 20220802'


fig, axes = plt.subplots(6, 1, figsize=(10, 18), dpi=100)
fig.subplots_adjust(left=0.1, right=0.72, top=0.98, bottom=0.041, hspace=0.277)
leg_kw = dict(loc='upper left', bbox_to_anchor=(1.05, 1.04), frameon=False)

ax = axes[0]
day_night(ax)
draw(ax, dry_pressure, 'dry_pressure', 'C0')
draw(ax, pressure_avg, 'pressure_avg', 'C1')
ax.set_title(title('Dry Pressure and Pressure Avg'))
ax.set_ylabel('(hPa)')
ax.legend(**leg_kw)

ax = axes[1]
day_night(ax)
h1 = draw(ax, dry_temperature, 'dry_temperature', 'C0')
ax.set_ylim(26.95, 31.93)
ax.set_ylabel('(degC)')
ax.set_title(title('SEMS T/RH'))
axr = ax.twinx()
h2 = draw(axr, dry_rh, 'dry_rh', 'C2')
axr.set_ylim(-0.6, 25.1)
axr.set_ylabel('(%)', color='C2')
axr.set_xlim(START, END)
ax.legend(handles=[h1, h2], **leg_kw)

ax = axes[2]
day_night(ax)
draw(ax, humid_sample_flow_avg, 'humid_sample_flow_avg', 'C0')
draw(ax, upstream_sample_flow_avg, 'upstream_sample_flow_avg', 'C1')
draw(ax, cpc_a_flow_avg, 'cpc_a_flow_avg', 'C2')
draw(ax, sample_bypass_flow_avg, 'sample_bypass_flow_avg', 'C3')
ax.set_ylim(-0.51, 1.45)
ax.set_ylabel('(L/min)')
ax.set_title(title('Sample and Bypass Flows'))
ax.legend(**leg_kw)

ax = axes[3]
day_night(ax)
draw(ax, upstream_sheath_flow_avg, 'upstream_sheath_flow_avg', 'C0')
draw(ax, upstream_excess_flow_avg, 'upstream_excess_flow_avg', 'C1')
ax.set_ylabel('(L/min)')
ax.set_title(title('SEMS (DMA 1) Flows'))
ax.legend(**leg_kw)

ax = axes[4]
day_night(ax)
draw(ax, humid_sheath_flow_avg, 'humid_sheath_flow_avg', 'C0', 0.5)
draw(ax, excess_flow_avg, 'excess_flow_avg', 'C1', 0.5)
ax.set_ylabel('(L/min)')
ax.set_title(title('HSEMS (DMA 2) Flows'))
ax.legend(**leg_kw)

ax = axes[5]
day_night(ax)
draw(ax, dma_rh_avg, 'dma_rh_avg', 'C0', 0.5)
draw(ax, hd_rh_avg, 'hd_rh_avg', 'C1', 0.5)
ax.set_ylim(84.03, 85.94)
ax.set_ylabel('(%)')
ax.set_xlabel('Time [UTC]')
ax.set_title(title('DMA RH Avg and HD RH Avg'))
ax.legend(**leg_kw)

fig.text(0.1, 0.008, 'Image provided by ARM Data Quality Office 2022-08-03 05:13:37',
         color='firebrick', fontsize=10)

fig.savefig('out.png', dpi=100)
